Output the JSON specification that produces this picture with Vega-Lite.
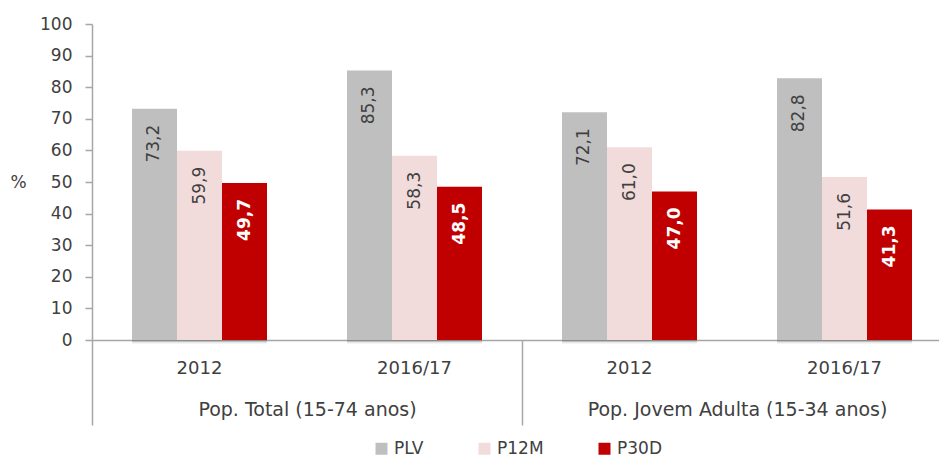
{
  "$schema": "https://vega.github.io/schema/vega-lite/v6.json",
  "width": 847,
  "height": 316,
  "autosize": {"type": "none"},
  "padding": {"left": 92, "top": 24, "right": 0, "bottom": 117},
  "config": {
    "font": "DejaVu Sans",
    "view": {"stroke": null},
    "locale": {"number": {"decimal": ",", "thousands": ".", "grouping": [3], "currency": ["", " €"]}}
  },
  "datasets": {
    "bars": [
      {"grp": "T|2012", "series": "PLV", "value": 73.2},
      {"grp": "T|2012", "series": "P12M", "value": 59.9},
      {"grp": "T|2012", "series": "P30D", "value": 49.7},
      {"grp": "T|2016/17", "series": "PLV", "value": 85.3},
      {"grp": "T|2016/17", "series": "P12M", "value": 58.3},
      {"grp": "T|2016/17", "series": "P30D", "value": 48.5},
      {"grp": "J|2012", "series": "PLV", "value": 72.1},
      {"grp": "J|2012", "series": "P12M", "value": 61.0},
      {"grp": "J|2012", "series": "P30D", "value": 47.0},
      {"grp": "J|2016/17", "series": "PLV", "value": 82.8},
      {"grp": "J|2016/17", "series": "P12M", "value": 51.6},
      {"grp": "J|2016/17", "series": "P30D", "value": 41.3}
    ],
    "pops": [
      {"pop": "Pop. Total (15-74 anos)"},
      {"pop": "Pop. Jovem Adulta (15-34 anos)"}
    ]
  },
  "layer": [
    {
      "data": {"name": "bars"},
      "encoding": {
        "x": {
          "field": "grp", "type": "nominal", "sort": null,
          "scale": {"range": [0, 860], "paddingInner": 0.372, "paddingOuter": 0.186},
          "axis": {
            "title": null, "ticks": false, "domainColor": "#a6a6a6", "domainWidth": 1.5,
            "labelExpr": "split(datum.value, '|')[1]", "labelAngle": 0,
            "labelFontSize": 18, "labelColor": "#404040", "labelPadding": 19
          }
        },
        "xOffset": {"field": "series", "type": "nominal", "sort": ["PLV", "P12M", "P30D"]},
        "y": {
          "field": "value", "type": "quantitative",
          "scale": {"domain": [0, 100], "nice": false},
          "axis": {
            "values": [0, 10, 20, 30, 40, 50, 60, 70, 80, 90, 100],
            "grid": false, "domainColor": "#a6a6a6", "domainWidth": 1.5,
            "tickColor": "#a6a6a6", "tickSize": 7, "tickWidth": 1.5,
            "labelFontSize": 17, "labelColor": "#404040", "labelPadding": 13,
            "title": "%", "titleAngle": 0, "titleX": -74, "titleY": 158,
            "titleAlign": "center", "titleBaseline": "middle",
            "titleFontSize": 17, "titleFontWeight": "normal", "titleColor": "#404040"
          }
        }
      },
      "layer": [
        {"mark": {"type": "bar", "color": "#000000", "opacity": 0.04, "xOffset": 7, "yOffset": 4}},
        {"mark": {"type": "bar", "color": "#000000", "opacity": 0.06, "xOffset": 5, "yOffset": 3}},
        {"mark": {"type": "bar", "color": "#000000", "opacity": 0.08, "xOffset": 3, "yOffset": 2}},
        {
          "mark": {"type": "bar"},
          "encoding": {
            "color": {
              "field": "series", "type": "nominal",
              "scale": {"domain": ["PLV", "P12M", "P30D"], "range": ["#bfbfbf", "#f2dcdb", "#c00000"]},
              "legend": {
                "title": null, "orient": "none", "legendX": 281, "legendY": 416,
                "direction": "horizontal", "symbolType": "square", "symbolSize": 144,
                "symbolStrokeWidth": 0, "labelFontSize": 17, "labelColor": "#404040",
                "columnPadding": 52, "labelOffset": 4
              }
            }
          }
        },
        {
          "transform": [{"filter": "datum.series != 'P30D'"}],
          "mark": {"type": "text", "angle": 270, "align": "right", "baseline": "middle", "dx": -16, "fontSize": 17, "color": "#404040"},
          "encoding": {"text": {"field": "value", "type": "quantitative", "format": ".1f"}}
        },
        {
          "transform": [{"filter": "datum.series == 'P30D'"}],
          "mark": {"type": "text", "angle": 270, "align": "right", "baseline": "middle", "dx": -16, "fontSize": 17, "fontWeight": "bold", "color": "#ffffff"},
          "encoding": {"text": {"field": "value", "type": "quantitative", "format": ".1f"}}
        }
      ]
    },
    {
      "data": {"name": "pops"},
      "mark": {"type": "rule", "opacity": 0},
      "encoding": {
        "x": {
          "field": "pop", "type": "nominal", "sort": null,
          "scale": {"range": [0, 860], "paddingInner": 0, "paddingOuter": 0},
          "axis": {
            "orient": "bottom", "title": null, "domain": false, "tickBand": "extent",
            "tickSize": 85, "tickColor": "#a6a6a6", "tickWidth": 1.5, "labelLimit": 0,
            "labelAngle": 0, "labelFontSize": 19, "labelColor": "#404040", "labelPadding": -25
          }
        }
      }
    }
  ],
  "resolve": {"scale": {"x": "independent"}, "axis": {"x": "independent"}}
}
